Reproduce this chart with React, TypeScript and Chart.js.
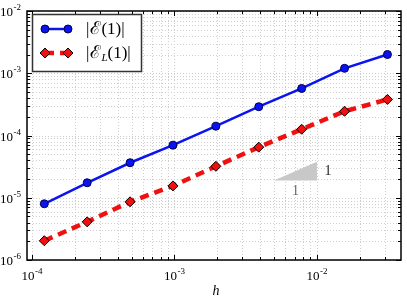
import React, { useEffect, useRef } from "react";
import { Chart, registerables } from "chart.js";
Chart.register(...registerables);

const stepSizes = [1 / 8192, 1 / 4096, 1 / 2048, 1 / 1024, 1 / 512, 1 / 256, 1 / 128, 1 / 64, 1 / 32];
const errorFull = [8.0e-6, 1.74e-5, 3.65e-5, 7.0e-5, 1.41e-4, 2.9e-4, 5.7e-4, 1.2e-3, 2.0e-3];
const errorLumped = [2.04e-6, 4.1e-6, 8.6e-6, 1.55e-5, 3.2e-5, 6.5e-5, 1.26e-4, 2.45e-4, 3.8e-4];
const slopeTriangleX = [5e-3, 1e-2, 1e-2];
const slopeTriangleY = [1.9e-5, 1.9e-5, 3.8e-5];
const xDecades = [-4, -3, -2];
const yDecades = [-6, -5, -4, -3, -2];
const xRange = [9.23e-5, 0.0389];
const yRange = [1e-6, 1e-2];
const xTitle = "h";

const SERIF = '"Liberation Serif", "DejaVu Serif", serif';

function minorValues(lo: number, hi: number) {
  const out: { v: number; major: boolean }[] = [];
  for (let e = Math.floor(Math.log10(lo)) - 1; e <= Math.ceil(Math.log10(hi)); e++) {
    for (let m = 1; m <= 9; m++) {
      const v = m * Math.pow(10, e);
      if (v >= lo * 0.9999 && v <= hi * 1.0001) out.push({ v, major: m === 1 });
    }
  }
  return out;
}

function drawPow(ctx: CanvasRenderingContext2D, exp: number, x: number, y: number, align: "center" | "right") {
  ctx.save();
  ctx.fillStyle = "#000";
  ctx.textBaseline = "alphabetic";
  ctx.textAlign = "left";
  ctx.font = `13px ${SERIF}`;
  const base = "10";
  const wb = ctx.measureText(base).width;
  ctx.font = `9px ${SERIF}`;
  const sup = "-" + Math.abs(exp);
  const ws = ctx.measureText(sup).width;
  const total = wb + ws + 0.5;
  const x0 = align === "center" ? x - total / 2 : x - total;
  ctx.font = `13px ${SERIF}`;
  ctx.fillText(base, x0, y);
  ctx.font = `9px ${SERIF}`;
  ctx.fillText(sup, x0 + wb + 0.5, y - 6);
  ctx.restore();
}

const decorPlugin = {
  id: "decor",
  beforeDatasetsDraw(chart: any) {
    const { ctx, chartArea: a, scales } = chart;
    const xs = scales.x, ys = scales.y;
    ctx.save();
    ctx.strokeStyle = "#cfcfcf";
    ctx.lineWidth = 1;
    ctx.setLineDash([1, 2]);
    for (const t of minorValues(xRange[0], xRange[1])) {
      const px = Math.round(xs.getPixelForValue(t.v)) + 0.5;
      ctx.beginPath();
      ctx.moveTo(px, a.top);
      ctx.lineTo(px, a.bottom);
      ctx.stroke();
    }
    for (const t of minorValues(yRange[0], yRange[1])) {
      const py = Math.round(ys.getPixelForValue(t.v)) + 0.5;
      ctx.beginPath();
      ctx.moveTo(a.left, py);
      ctx.lineTo(a.right, py);
      ctx.stroke();
    }
    ctx.setLineDash([]);
    // slope triangle
    ctx.fillStyle = "#c8c8c8";
    ctx.beginPath();
    slopeTriangleX.forEach((xv, i) => {
      const px = xs.getPixelForValue(xv);
      const py = ys.getPixelForValue(slopeTriangleY[i]);
      if (i === 0) ctx.moveTo(px, py);
      else ctx.lineTo(px, py);
    });
    ctx.closePath();
    ctx.fill();
    ctx.font = `14px ${SERIF}`;
    ctx.textAlign = "center";
    ctx.textBaseline = "middle";
    ctx.fillStyle = "#222";
    const rx = xs.getPixelForValue(slopeTriangleX[1]);
    const ryTop = ys.getPixelForValue(slopeTriangleY[2]);
    const ryBot = ys.getPixelForValue(slopeTriangleY[1]);
    ctx.fillText("1", rx + 11, (ryTop + ryBot) / 2);
    ctx.fillStyle = "#666";
    const lx = xs.getPixelForValue(slopeTriangleX[0]);
    ctx.fillText("1", (lx + rx) / 2, ryBot + 11);
    ctx.restore();
  },
  afterDatasetsDraw(chart: any) {
    const { ctx, chartArea: a, scales } = chart;
    const xs = scales.x, ys = scales.y;
    ctx.save();
    // ticks
    ctx.strokeStyle = "#000";
    ctx.lineWidth = 1;
    for (const t of minorValues(xRange[0], xRange[1])) {
      const px = Math.round(xs.getPixelForValue(t.v)) + 0.5;
      const len = t.major ? 5 : 3;
      ctx.beginPath();
      ctx.moveTo(px, a.bottom);
      ctx.lineTo(px, a.bottom - len);
      ctx.moveTo(px, a.top);
      ctx.lineTo(px, a.top + len);
      ctx.stroke();
    }
    for (const t of minorValues(yRange[0], yRange[1])) {
      const py = Math.round(ys.getPixelForValue(t.v)) + 0.5;
      const len = t.major ? 5 : 3;
      ctx.beginPath();
      ctx.moveTo(a.left, py);
      ctx.lineTo(a.left + len, py);
      ctx.moveTo(a.right, py);
      ctx.lineTo(a.right - len, py);
      ctx.stroke();
    }
    // frame
    ctx.lineWidth = 1.5;
    ctx.strokeRect(a.left, a.top, a.right - a.left, a.bottom - a.top);
    // tick labels
    for (const e of xDecades) {
      const px = xs.getPixelForValue(Math.pow(10, e));
      drawPow(ctx, e, px, a.bottom + 20, "center");
    }
    for (const e of yDecades) {
      const py = ys.getPixelForValue(Math.pow(10, e));
      drawPow(ctx, e, a.left - 6, py + 5, "right");
    }
    // axis title
    ctx.font = `italic 14px ${SERIF}`;
    ctx.fillStyle = "#000";
    ctx.textAlign = "center";
    ctx.textBaseline = "alphabetic";
    ctx.fillText(xTitle, 216, a.bottom + 35);
    // legend
    const bx = 32.5, by = 14.5, bw = 109, bh = 57;
    ctx.fillStyle = "#fff";
    ctx.fillRect(bx, by, bw, bh);
    ctx.strokeStyle = "#333";
    ctx.lineWidth = 1.5;
    ctx.strokeRect(bx, by, bw, bh);
    const ds = chart.data.datasets;
    const rows = [29, 53];
    [0, 1].forEach((i) => {
      const d = ds[i];
      const y = rows[i];
      ctx.save();
      ctx.strokeStyle = d.borderColor;
      ctx.lineWidth = d.borderWidth;
      ctx.setLineDash(d.borderDash || []);
      ctx.beginPath();
      ctx.moveTo(45, y);
      ctx.lineTo(68, y);
      ctx.stroke();
      ctx.setLineDash([]);
      ctx.fillStyle = d.pointBackgroundColor;
      ctx.strokeStyle = d.pointBorderColor;
      ctx.lineWidth = d.pointBorderWidth;
      for (const mx of [45, 68]) {
        ctx.beginPath();
        if (d.pointStyle === "rectRot") {
          const r = d.pointRadius;
          ctx.moveTo(mx, y - r);
          ctx.lineTo(mx + r, y);
          ctx.lineTo(mx, y + r);
          ctx.lineTo(mx - r, y);
          ctx.closePath();
        } else {
          ctx.arc(mx, y, d.pointRadius, 0, Math.PI * 2);
        }
        ctx.fill();
        ctx.stroke();
      }
      ctx.restore();
      // text
      ctx.fillStyle = "#000";
      ctx.textAlign = "left";
      ctx.textBaseline = "alphabetic";
      let tx = 86;
      const base = y + 5;
      const put = (s: string, font: string, dy = 0) => {
        ctx.font = font;
        ctx.fillText(s, tx, base + dy);
        tx += ctx.measureText(s).width;
      };
      put("|", `17px ${SERIF}`);
      tx += 1;
      put("\u2130", `18px "DejaVu Serif", ${SERIF}`);
      if (i === 1) put("L", `italic 11px ${SERIF}`, 3);
      put("(1)|", `17px ${SERIF}`);
    });
    ctx.restore();
  },
};

export default function App() {
  const ref = useRef<HTMLCanvasElement | null>(null);
  useEffect(() => {
    document.body.style.margin = "0";
    const canvas = ref.current!;
    const chart = new Chart(canvas, {
      type: "line",
      data: {
        datasets: [
          {
            label: "|E(1)|",
            data: stepSizes.map((h, i) => ({ x: h, y: errorFull[i] })),
            borderColor: "#0a14f0",
            borderWidth: 2.5,
            pointRadius: 4,
            pointStyle: "circle",
            pointBackgroundColor: "#0a14f0",
            pointBorderColor: "#000050",
            pointBorderWidth: 1,
            tension: 0,
          },
          {
            label: "|E_L(1)|",
            data: stepSizes.map((h, i) => ({ x: h, y: errorLumped[i] })),
            borderColor: "#f01010",
            borderWidth: 4.5,
            borderDash: [9, 6],
            pointRadius: 5,
            pointStyle: "rectRot",
            pointBackgroundColor: "#f01010",
            pointBorderColor: "#000",
            pointBorderWidth: 1,
            tension: 0,
          },
        ],
      } as any,
      options: {
        animation: false,
        responsive: false,
        layout: { padding: { left: 27, right: 2, top: 11, bottom: 37 } },
        plugins: { legend: { display: false }, tooltip: { enabled: false } },
        scales: {
          x: { type: "logarithmic", min: xRange[0], max: xRange[1], display: false },
          y: { type: "logarithmic", min: yRange[0], max: yRange[1], display: false },
        },
      },
      plugins: [decorPlugin],
    });
    return () => chart.destroy();
  }, []);
  return <canvas ref={ref} width={407} height={297} style={{ display: "block" }} />;
}
